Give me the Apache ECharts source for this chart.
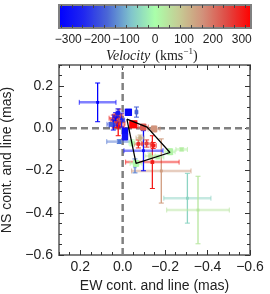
<!DOCTYPE html>
<html>
<head>
<meta charset="utf-8">
<script src="https://cdn.jsdelivr.net/npm/echarts@6/dist/echarts.min.js"></script>
<style>html,body{margin:0;padding:0;background:#fff}#c{width:270px;height:294px}</style>
</head>
<body>
<div id="c"></div>
<script>
// ---- data ----
const ptX  = [0.118,-0.305,-0.355,-0.182,-0.140,-0.098,0.016,-0.058,-0.065,0.036,0.028,0.013,0.021,0.044,0.044,0.005,0.033,0.055,0.017,0.022,-0.074,-0.113,-0.144,-0.129,-0.166,-0.082,-0.044,-0.278,-0.063,-0.223,-0.097,-0.148,-0.011,-0.011,-0.027,-0.050];
const ptY  = [0.123,-0.331,-0.387,-0.202,-0.160,-0.106,-0.063,-0.178,0.077,0.048,0.031,0.024,0.008,0.039,0.016,0.039,0.055,0.019,0.063,0.073,-0.074,-0.072,-0.081,-0.131,-0.136,-0.046,-0.069,-0.100,-0.166,-0.111,0.006,-0.003,-0.013,-0.041,0.076,0.019];
const errX = [0.0865,0.111,0.1475,0.140,0.126,0.092,0.059,0.005,0.005,0.028,0.019,0.024,0.028,0.014,0.019,0.014,0.014,0.019,0.019,0.009,0.019,0.024,0.014,0.024,0.028,0.019,0.014,0.027,0.028,0.024,0.024,0.028,0.009,0.009,0.009,0.014];
const errY = [0.0917,0.118,0.160,0.152,0.125,0.095,0.009,0.033,0.024,0.019,0.028,0.014,0.043,0.024,0.024,0.033,0.019,0.009,0.028,0.019,0.019,0.017,0.014,0.014,0.009,0.014,0.014,0.007,0.014,0.014,0.014,0.014,0.014,0.014,0.014,0.014];
const vel  = [-330,-60,40,150,300,-310,-150,-140,-170,290,310,270,320,250,-300,-260,-320,-180,230,-280,280,260,300,50,20,120,0,30,10,20,230,160,-310,-290,-320,330];
const peak = [2,2,2,2,3,2,3,2,3,3,3,3,3,3,3,3,3,3,3,3,3,3,3,3,3,3,3,3,6,6,6,6,6,6,7,8];
const polyX = [-0.020,-0.115,-0.223,-0.063,-0.020];
const polyY = [0.044,0.006,-0.1145,-0.166,0.044];
const axisTicks = [0.2,0,-0.2,-0.4,-0.6];
const velLabels = [-300,-200,-100,0,100,200,300];
const velTicks = [-325,-287.5,-250,-212.5,-175,-137.5,-100,-62.5,-25,12.5,50,87.5,125,162.5,200,237.5,275,312.5];
const velRange = [-332,332];

const FONT = 'Liberation Sans';
const fmt = v => (v < 0 ? '\u2212' : '') + Math.abs(v).toFixed(1);
const vfmt = v => (v < 0 ? '\u2212' : '') + Math.abs(v);

const pts = ptX.map((x,i)=>[x, ptY[i], errX[i], errY[i], vel[i], peak[i]]);
const poly = polyX.map((x,i)=>[x, polyY[i]]);

const tickStyle = {color:'#333', width:1};
function mainX(pos, major, labels, extra){
  return Object.assign({
    type:'value', gridIndex:0, position:pos, min:-0.6, max:0.3, inverse:true,
    axisLine:{show:false,onZero:false}, splitLine:{show:false},
    axisTick: major ? {customValues:axisTicks, inside:true, length:5, lineStyle:tickStyle}
                    : {inside:true, length:3, lineStyle:tickStyle},
    interval: major ? undefined : 0.05,
    axisLabel: labels ? {customValues:axisTicks, formatter:fmt, margin:5, fontSize:14, color:'#222', fontFamily:FONT,
                         showMinLabel:true, showMaxLabel:true} : {show:false}
  }, extra||{});
}
function mainY(pos, major, labels, extra){
  return Object.assign({
    type:'value', gridIndex:0, position:pos, min:-0.6, max:0.3,
    axisLine:{show:false,onZero:false}, splitLine:{show:false},
    axisTick: major ? {customValues:axisTicks, inside:true, length:5, lineStyle:tickStyle}
                    : {inside:true, length:3, lineStyle:tickStyle},
    interval: major ? undefined : 0.05,
    axisLabel: labels ? {customValues:axisTicks, formatter:fmt, margin:6, fontSize:14, color:'#222', fontFamily:FONT,
                         showMinLabel:true, showMaxLabel:true} : {show:false}
  }, extra||{});
}

const chart = echarts.init(document.getElementById('c'), null, {renderer:'canvas'});
chart.setOption({
  animation:false,
  title:{
    left:106, top:47, padding:0,
    text:'{i|Velocity} {n|(kms}{s|\u22121}{n|)}',
    textStyle:{fontWeight:'normal', rich:{
      i:{fontFamily:'Liberation Serif', fontStyle:'italic', fontWeight:'normal', fontSize:14, color:'#222'},
      n:{fontFamily:'Liberation Serif', fontWeight:'normal', fontSize:14, color:'#222'},
      s:{fontFamily:'Liberation Serif', fontWeight:'normal', fontSize:9, color:'#222', verticalAlign:'top', padding:[0,0,7,0]}
    }}
  },
  grid:[
    {left:59, top:65, width:191, height:190, show:true, borderColor:'#808080', borderWidth:2, backgroundColor:'transparent',
     containLabel:false, outerBoundsMode:'none'},
    {left:59, top:5, width:192, height:23, show:true, borderColor:'#808080', borderWidth:2, backgroundColor:'transparent', z:5,
     containLabel:false, outerBoundsMode:'none'}
  ],
  visualMap:{
    type:'continuous', min:velRange[0], max:velRange[1], orient:'horizontal',
    left:59, top:5, itemWidth:23, itemHeight:192, padding:0, calculable:false,
    hoverLink:false, seriesIndex:2, dimension:4, z:4,
    inRange:{color:['#0000ff','#1f25f0','#4a66d6','#80c4cc','#aaffaa','#c6cc94','#d2907a','#e04a44','#ff0000']}
  },
  xAxis:[
    mainX('bottom', true, true, {name:'EW cont. and line (mas)', nameLocation:'middle', nameGap:20,
      nameTextStyle:{fontSize:14, color:'#222', fontFamily:FONT}}),
    mainX('bottom', false, false),
    mainX('top', true, false),
    mainX('top', false, false),
    {type:'value', gridIndex:1, position:'bottom', min:velRange[0], max:velRange[1], z:6,
     axisLine:{show:false,onZero:false}, splitLine:{show:false},
     axisTick:{customValues:velTicks, inside:true, length:3, lineStyle:{color:'#444',width:1}},
     axisLabel:{customValues:velLabels, formatter:vfmt, margin:6, fontSize:12, color:'#222', fontFamily:FONT,
                showMinLabel:true, showMaxLabel:true, hideOverlap:false}},
    {type:'value', gridIndex:1, position:'top', min:velRange[0], max:velRange[1], z:6,
     axisLine:{show:false,onZero:false}, splitLine:{show:false},
     axisTick:{customValues:velTicks, inside:true, length:3, lineStyle:{color:'#444',width:1}},
     axisLabel:{show:false}}
  ],
  yAxis:[
    mainY('left', true, true, {name:'NS cont. and line (mas)', nameLocation:'middle', nameGap:38, nameRotate:90,
      nameTextStyle:{fontSize:14, color:'#222', fontFamily:FONT}}),
    mainY('left', false, false),
    mainY('right', true, false),
    mainY('right', false, false),
    {type:'value', gridIndex:1, min:0, max:1, show:false}
  ],
  series:[
    {type:'line', xAxisIndex:0, yAxisIndex:0, data:[[0,-0.6],[0,0.3]], symbol:'none', silent:true, z:1,
     lineStyle:{color:'#808080', width:2.5, type:[7,4]}},
    {type:'line', xAxisIndex:0, yAxisIndex:0, data:[[0.3,0],[-0.6,0]], symbol:'none', silent:true, z:1,
     lineStyle:{color:'#808080', width:2.5, type:[7,4]}},
    {type:'custom', xAxisIndex:0, yAxisIndex:0, data:pts, z:2, clip:true,
     encode:{x:0, y:1},
     renderItem:function(params, api){
       const x=api.value(0), y=api.value(1), ex=api.value(2), ey=api.value(3);
       const c=api.coord([x,y]);
       const xl=api.coord([x+ex,y])[0], xr=api.coord([x-ex,y])[0];
       const yt=api.coord([x,y+ey])[1], yb=api.coord([x,y-ey])[1];
       const col=api.visual('color');
       const s=1 + api.value(5)*0.9;
       const cap=2.5;
       const L=(x1,y1,x2,y2,w,op)=>({type:'line', shape:{x1,y1,x2,y2}, style:{stroke:col, lineWidth:w, opacity:op}});
       return {type:'group', children:[
         L(xl,c[1],xr,c[1],2.5,0.5),
         L(xl,c[1]-cap,xl,c[1]+cap,1,0.7),
         L(xr,c[1]-cap,xr,c[1]+cap,1,0.7),
         L(c[0],yt,c[0],yb,1.3,1),
         L(c[0]-cap,yt,c[0]+cap,yt,1,1),
         L(c[0]-cap,yb,c[0]+cap,yb,1,1),
         {type:'rect', shape:{x:c[0]-s/2, y:c[1]-s/2, width:s, height:s}, style:{fill:col}}
       ]};
     }},
    {type:'line', xAxisIndex:0, yAxisIndex:0, data:poly, symbol:'none', silent:true, z:3,
     lineStyle:{color:'#000', width:1.3}}
  ]
});
</script>
</body>
</html>
